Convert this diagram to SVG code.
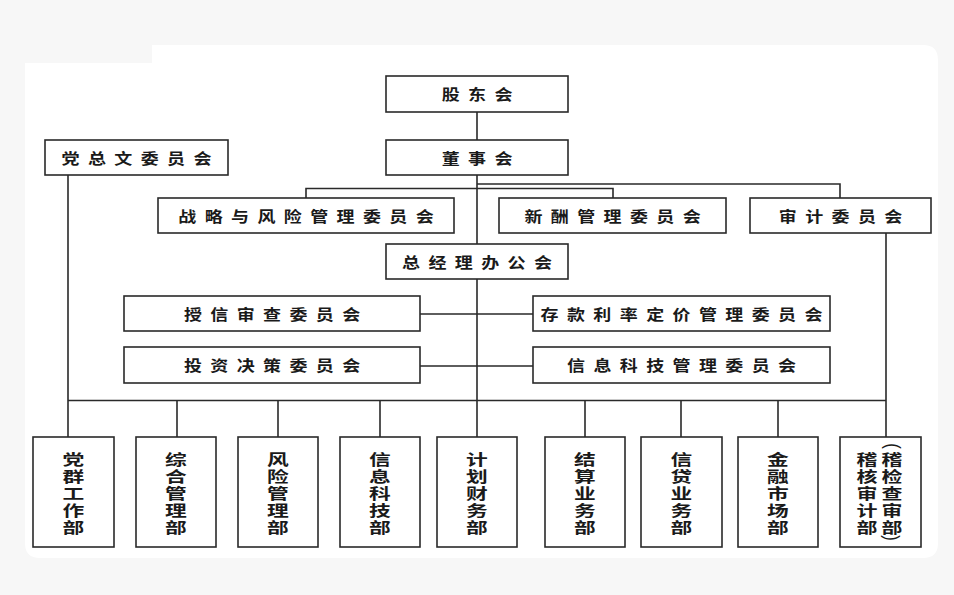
<svg xmlns="http://www.w3.org/2000/svg" width="954" height="595" viewBox="0 0 954 595">
<style>
.bx{fill:#fff;stroke:#2a2a2a;stroke-width:1.6}
.ln{fill:none;stroke:#2a2a2a;stroke-width:1.6}
.t{font-family:"Noto Sans CJK SC","Noto Sans CJK JP",sans-serif;font-weight:bold;font-size:15px;letter-spacing:7px;fill:#1a1a1a;text-anchor:middle;dominant-baseline:central}
.v{font-family:"Noto Sans CJK SC","Noto Sans CJK JP",sans-serif;font-weight:bold;font-size:15px;fill:#1a1a1a;text-anchor:middle;dominant-baseline:central}
.p{font-family:"Liberation Sans",sans-serif;font-size:17px;fill:#1a1a1a;text-anchor:middle;dominant-baseline:central}
</style>
<rect x="0" y="0" width="954" height="595" fill="#f7f7f7"/>
<path d="M25 63 H152 V45 H923 Q938 45 938 60 V543 Q938 558 923 558 H40 Q25 558 25 543 Z" fill="#ffffff"/>
<g id="connectors">
<path class="ln" d="M477 112 V140 M477 175 V244 M477 279 V437"/>
<path class="ln" d="M477 184 H840 V198"/>
<path class="ln" d="M306 198 V188.5 H613 V198"/>
<path class="ln" d="M68 175 V437 M886 233 V437 M68 400.5 H886"/>
<path class="ln" d="M177 400 V437 M278 400 V437 M380 400 V437 M585 400 V437 M681 400 V437 M778 400 V437"/>
<path class="ln" d="M420 314 H533 M420 366 H533"/>
</g>
<g id="n-gudong"><rect class="bx" x="386" y="76" width="182" height="36"/><text class="t" transform="translate(477,94) scale(1.2,1)" x="3.5">股东会</text></g>
<g id="n-dongshi"><rect class="bx" x="386" y="140" width="182" height="35"/><text class="t" transform="translate(477,157.5) scale(1.2,1)" x="3.5">董事会</text></g>
<g id="n-dangzong"><rect class="bx" x="45" y="140" width="183" height="35"/><text class="t" transform="translate(136.5,157.5) scale(1.2,1)" x="3.5">党总文委员会</text></g>
<g id="n-zhanlue"><rect class="bx" x="158" y="198" width="296" height="35"/><text class="t" transform="translate(306,215.5) scale(1.2,1)" x="3.5">战略与风险管理委员会</text></g>
<g id="n-xinchou"><rect class="bx" x="499" y="198" width="227" height="35"/><text class="t" transform="translate(612.5,215.5) scale(1.2,1)" x="3.5">新酬管理委员会</text></g>
<g id="n-shenji"><rect class="bx" x="750" y="198" width="181" height="35"/><text class="t" transform="translate(840.5,215.5) scale(1.2,1)" x="3.5">审计委员会</text></g>
<g id="n-zongjingli"><rect class="bx" x="386" y="244" width="182" height="35"/><text class="t" transform="translate(477,261.5) scale(1.2,1)" x="3.5">总经理办公会</text></g>
<g id="n-shouxin"><rect class="bx" x="124" y="296" width="296" height="35"/><text class="t" transform="translate(272,313.5) scale(1.2,1)" x="3.5">授信审查委员会</text></g>
<g id="n-cunkuan"><rect class="bx" x="533" y="296" width="297" height="35"/><text class="t" transform="translate(681.5,313.5) scale(1.2,1)" x="3.5">存款利率定价管理委员会</text></g>
<g id="n-touzi"><rect class="bx" x="124" y="347" width="296" height="36"/><text class="t" transform="translate(272,365) scale(1.2,1)" x="3.5">投资决策委员会</text></g>
<g id="n-xinxikeji"><rect class="bx" x="533" y="347" width="297" height="36"/><text class="t" transform="translate(681.5,365) scale(1.2,1)" x="3.5">信息科技管理委员会</text></g>
<g id="d1"><rect class="bx" x="33" y="437" width="81" height="110"/><text class="v" transform="translate(73.5,458) scale(1.45,1)"><tspan x="0" y="0">党</tspan><tspan x="0" dy="17">群</tspan><tspan x="0" dy="17">工</tspan><tspan x="0" dy="17">作</tspan><tspan x="0" dy="17">部</tspan></text></g>
<g id="d2"><rect class="bx" x="136" y="437" width="80" height="110"/><text class="v" transform="translate(176,458) scale(1.45,1)"><tspan x="0" y="0">综</tspan><tspan x="0" dy="17">合</tspan><tspan x="0" dy="17">管</tspan><tspan x="0" dy="17">理</tspan><tspan x="0" dy="17">部</tspan></text></g>
<g id="d3"><rect class="bx" x="238" y="437" width="80" height="110"/><text class="v" transform="translate(278,458) scale(1.45,1)"><tspan x="0" y="0">风</tspan><tspan x="0" dy="17">险</tspan><tspan x="0" dy="17">管</tspan><tspan x="0" dy="17">理</tspan><tspan x="0" dy="17">部</tspan></text></g>
<g id="d4"><rect class="bx" x="340" y="437" width="80" height="110"/><text class="v" transform="translate(380,458) scale(1.45,1)"><tspan x="0" y="0">信</tspan><tspan x="0" dy="17">息</tspan><tspan x="0" dy="17">科</tspan><tspan x="0" dy="17">技</tspan><tspan x="0" dy="17">部</tspan></text></g>
<g id="d5"><rect class="bx" x="437" y="437" width="80" height="110"/><text class="v" transform="translate(477,458) scale(1.45,1)"><tspan x="0" y="0">计</tspan><tspan x="0" dy="17">划</tspan><tspan x="0" dy="17">财</tspan><tspan x="0" dy="17">务</tspan><tspan x="0" dy="17">部</tspan></text></g>
<g id="d6"><rect class="bx" x="545" y="437" width="80" height="110"/><text class="v" transform="translate(585,458) scale(1.45,1)"><tspan x="0" y="0">结</tspan><tspan x="0" dy="17">算</tspan><tspan x="0" dy="17">业</tspan><tspan x="0" dy="17">务</tspan><tspan x="0" dy="17">部</tspan></text></g>
<g id="d7"><rect class="bx" x="641" y="437" width="81" height="110"/><text class="v" transform="translate(681.5,458) scale(1.45,1)"><tspan x="0" y="0">信</tspan><tspan x="0" dy="17">贷</tspan><tspan x="0" dy="17">业</tspan><tspan x="0" dy="17">务</tspan><tspan x="0" dy="17">部</tspan></text></g>
<g id="d8"><rect class="bx" x="738" y="437" width="80" height="110"/><text class="v" transform="translate(778,458) scale(1.45,1)"><tspan x="0" y="0">金</tspan><tspan x="0" dy="17">融</tspan><tspan x="0" dy="17">市</tspan><tspan x="0" dy="17">场</tspan><tspan x="0" dy="17">部</tspan></text></g>
<g id="d9"><rect class="bx" x="840" y="437" width="81" height="110"/>
<text class="v" transform="translate(867,458) scale(1.4,1)"><tspan x="0" y="0">稽</tspan><tspan x="0" dy="17">核</tspan><tspan x="0" dy="17">审</tspan><tspan x="0" dy="17">计</tspan><tspan x="0" dy="17">部</tspan></text>
<text class="v" transform="translate(892,458) scale(1.4,1)"><tspan x="0" y="0">稽</tspan><tspan x="0" dy="17">检</tspan><tspan x="0" dy="17">查</tspan><tspan x="0" dy="17">审</tspan><tspan x="0" dy="17">部</tspan></text>
<text class="p" transform="translate(893,446) rotate(90) scale(1,1.15)">(</text>
<text class="p" transform="translate(892,538) rotate(90) scale(1,1.15)">)</text>
</g>
</svg>
